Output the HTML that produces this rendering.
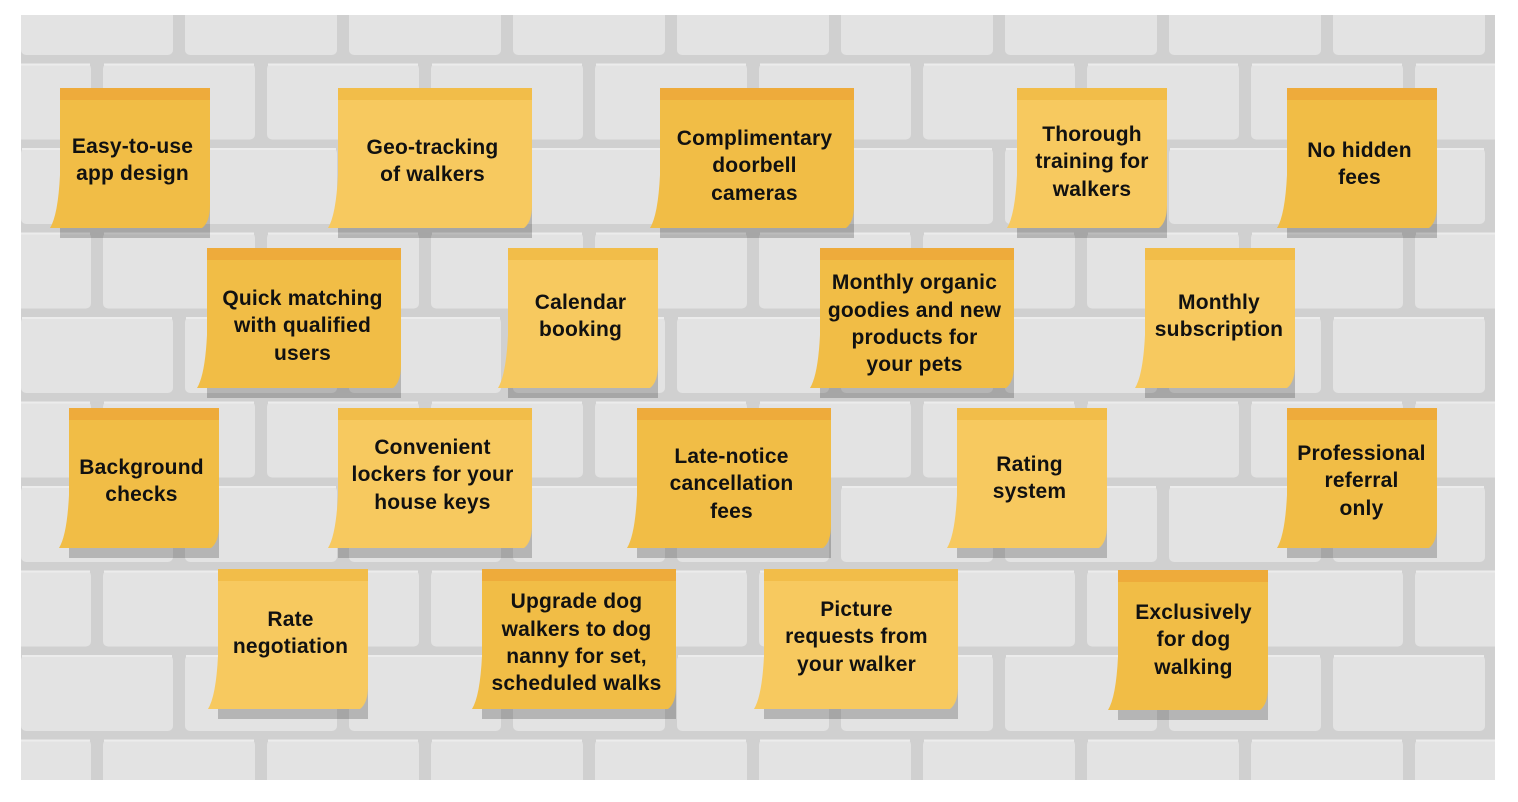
<!DOCTYPE html>
<html><head><meta charset="utf-8"><style>
html,body{margin:0;padding:0;background:#fff;width:1518px;height:802px;overflow:hidden;position:relative}
svg{position:absolute;left:0;top:0}
.t{position:absolute;height:128px;display:flex;align-items:center;justify-content:center;text-align:center;font-family:"Liberation Sans",sans-serif;font-weight:bold;font-size:21px;letter-spacing:0.2px;line-height:27.3px;color:#111;white-space:nowrap}
</style></head><body>
<svg width="1518" height="802" viewBox="0 0 1518 802">
<defs>
<pattern id="br" patternUnits="userSpaceOnUse" x="21" y="-21" width="164" height="169">
<rect width="164" height="169" fill="#d0d0d0"/>
<rect x="0" y="0" width="152" height="76" rx="5" fill="#e3e3e3"/>
<rect x="1" y="0" width="150" height="2" fill="#ececec"/>
<rect x="82" y="84.5" width="152" height="76" rx="5" fill="#e3e3e3"/>
<rect x="-82" y="84.5" width="152" height="76" rx="5" fill="#e3e3e3"/>
<rect x="83" y="84.5" width="150" height="2" fill="#ececec"/>
<rect x="-81" y="84.5" width="150" height="2" fill="#ececec"/>
</pattern>
</defs>
<rect x="21" y="15" width="1474" height="765" fill="url(#br)"/>
<g fill="rgba(0,0,0,0.2)">
<rect x="60" y="100" width="150" height="138"/>
<rect x="338" y="100" width="194" height="138"/>
<rect x="660" y="100" width="194" height="138"/>
<rect x="1017" y="100" width="150" height="138"/>
<rect x="1287" y="100" width="150" height="138"/>
<rect x="207" y="260" width="194" height="138"/>
<rect x="508" y="260" width="150" height="138"/>
<rect x="820" y="260" width="194" height="138"/>
<rect x="1145" y="260" width="150" height="138"/>
<rect x="69" y="420" width="150" height="138"/>
<rect x="338" y="420" width="194" height="138"/>
<rect x="637" y="420" width="194" height="138"/>
<rect x="957" y="420" width="150" height="138"/>
<rect x="1287" y="420" width="150" height="138"/>
<rect x="218" y="581" width="150" height="138"/>
<rect x="482" y="581" width="194" height="138"/>
<rect x="764" y="581" width="194" height="138"/>
<rect x="1118" y="582" width="150" height="138"/>
</g>
<g>
<path d="M60,88H210V205Q210,222 202,228H50Q58,215 60,175Z" fill="#f1bd46"/><rect x="60" y="88" width="150" height="12" fill="#eeab3b"/>
<path d="M338,88H532V205Q532,222 524,228H328Q336,215 338,175Z" fill="#f7c95f"/><rect x="338" y="88" width="194" height="12" fill="#f2bd49"/>
<path d="M660,88H854V205Q854,222 846,228H650Q658,215 660,175Z" fill="#f1bd46"/><rect x="660" y="88" width="194" height="12" fill="#eeab3b"/>
<path d="M1017,88H1167V205Q1167,222 1159,228H1007Q1015,215 1017,175Z" fill="#f7c95f"/><rect x="1017" y="88" width="150" height="12" fill="#f2bd49"/>
<path d="M1287,88H1437V205Q1437,222 1429,228H1277Q1285,215 1287,175Z" fill="#f1bd46"/><rect x="1287" y="88" width="150" height="12" fill="#eeab3b"/>

<path d="M207,248H401V365Q401,382 393,388H197Q205,375 207,335Z" fill="#f1bd46"/><rect x="207" y="248" width="194" height="12" fill="#eeab3b"/>
<path d="M508,248H658V365Q658,382 650,388H498Q506,375 508,335Z" fill="#f7c95f"/><rect x="508" y="248" width="150" height="12" fill="#f2bd49"/>
<path d="M820,248H1014V365Q1014,382 1006,388H810Q818,375 820,335Z" fill="#f1bd46"/><rect x="820" y="248" width="194" height="12" fill="#eeab3b"/>
<path d="M1145,248H1295V365Q1295,382 1287,388H1135Q1143,375 1145,335Z" fill="#f7c95f"/><rect x="1145" y="248" width="150" height="12" fill="#f2bd49"/>

<path d="M69,408H219V525Q219,542 211,548H59Q67,535 69,495Z" fill="#f1bd46"/><rect x="69" y="408" width="150" height="12" fill="#eeab3b"/>
<path d="M338,408H532V525Q532,542 524,548H328Q336,535 338,495Z" fill="#f7c95f"/><rect x="338" y="408" width="194" height="12" fill="#f2bd49"/>
<path d="M637,408H831V525Q831,542 823,548H627Q635,535 637,495Z" fill="#f1bd46"/><rect x="637" y="408" width="194" height="12" fill="#eeab3b"/>
<path d="M957,408H1107V525Q1107,542 1099,548H947Q955,535 957,495Z" fill="#f7c95f"/><rect x="957" y="408" width="150" height="12" fill="#f2bd49"/>
<path d="M1287,408H1437V525Q1437,542 1429,548H1277Q1285,535 1287,495Z" fill="#f1bd46"/><rect x="1287" y="408" width="150" height="12" fill="#eeab3b"/>

<path d="M218,569H368V686Q368,703 360,709H208Q216,696 218,656Z" fill="#f7c95f"/><rect x="218" y="569" width="150" height="12" fill="#f2bd49"/>
<path d="M482,569H676V686Q676,703 668,709H472Q480,696 482,656Z" fill="#f1bd46"/><rect x="482" y="569" width="194" height="12" fill="#eeab3b"/>
<path d="M764,569H958V686Q958,703 950,709H754Q762,696 764,656Z" fill="#f7c95f"/><rect x="764" y="569" width="194" height="12" fill="#f2bd49"/>
<path d="M1118,570H1268V687Q1268,704 1260,710H1108Q1116,697 1118,657Z" fill="#f1bd46"/><rect x="1118" y="570" width="150" height="12" fill="#eeab3b"/>
</g>
</svg>
<div class="t" style="left:55px;top:96px;width:155px">Easy-to-use<br>app design</div>
<div class="t" style="left:333px;top:97px;width:199px">Geo-tracking<br>of walkers</div>
<div class="t" style="left:655px;top:102px;width:199px">Complimentary<br>doorbell<br>cameras</div>
<div class="t" style="left:1017px;top:98px;width:150px">Thorough<br>training for<br>walkers</div>
<div class="t" style="left:1282px;top:100px;width:155px">No hidden<br>fees</div>
<div class="t" style="left:204px;top:262px;width:197px">Quick matching<br>with qualified<br>users</div>
<div class="t" style="left:503px;top:252px;width:155px">Calendar<br>booking</div>
<div class="t" style="left:815px;top:260px;width:199px">Monthly organic<br>goodies and new<br>products for<br>your pets</div>
<div class="t" style="left:1143px;top:252px;width:152px">Monthly<br>subscription</div>
<div class="t" style="left:64px;top:417px;width:155px">Background<br>checks</div>
<div class="t" style="left:333px;top:411px;width:199px">Convenient<br>lockers for your<br>house keys</div>
<div class="t" style="left:632px;top:420px;width:199px">Late-notice<br>cancellation<br>fees</div>
<div class="t" style="left:952px;top:414px;width:155px">Rating<br>system</div>
<div class="t" style="left:1284px;top:417px;width:155px">Professional<br>referral<br>only</div>
<div class="t" style="left:213px;top:569px;width:155px">Rate<br>negotiation</div>
<div class="t" style="left:477px;top:579px;width:199px">Upgrade dog<br>walkers to dog<br>nanny for set,<br>scheduled walks</div>
<div class="t" style="left:759px;top:573px;width:195px">Picture<br>requests from<br>your walker</div>
<div class="t" style="left:1116px;top:576px;width:155px">Exclusively<br>for dog<br>walking</div>
</body></html>
